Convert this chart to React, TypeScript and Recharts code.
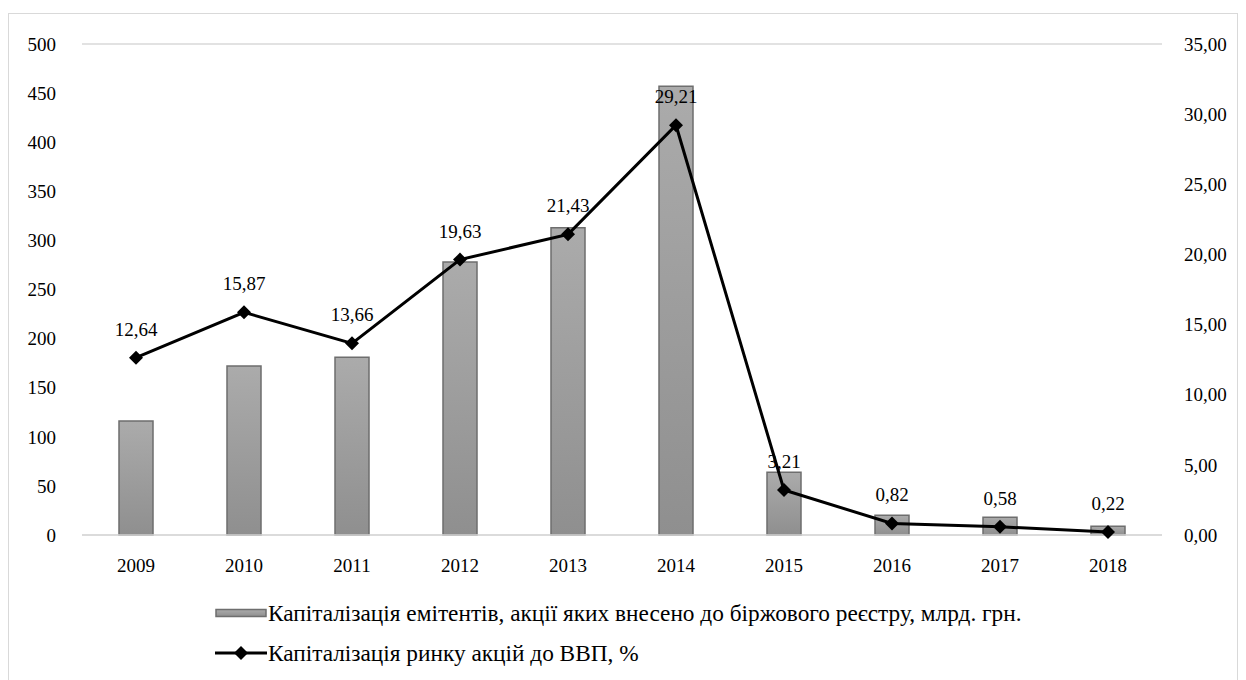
import React from 'react';
import {
  Bar,
  CartesianGrid,
  ComposedChart,
  LabelList,
  Legend,
  Line,
  XAxis,
  YAxis,
} from 'recharts';

const years = ['2009', '2010', '2011', '2012', '2013', '2014', '2015', '2016', '2017', '2018'];
const capitalization = [116, 172, 181, 278, 313, 457, 64, 20, 18, 9];
const shareOfGdp = [12.64, 15.87, 13.66, 19.63, 21.43, 29.21, 3.21, 0.82, 0.58, 0.22];
const leftTicks = [0, 50, 100, 150, 200, 250, 300, 350, 400, 450, 500];
const rightTicks = [0, 5, 10, 15, 20, 25, 30, 35];

const barName = 'Капіталізація емітентів, акції яких внесено до біржового реєстру, млрд. грн.';
const lineName = 'Капіталізація ринку акцій до ВВП, %';

const data = years.map((year, i) => ({
  year,
  cap: capitalization[i],
  gdp: shareOfGdp[i],
}));

const font = 'Liberation Serif, Times New Roman, serif';
const tickStyle = { fill: '#000', fontSize: 19, fontFamily: font };

const fmt = (v: number) => v.toFixed(2).replace('.', ',');

function Diamond(props: any) {
  const { cx, cy } = props;
  if (cx == null || cy == null) return null;
  const r = 7;
  return (
    <polygon
      points={`${cx},${cy - r} ${cx + r},${cy} ${cx},${cy + r} ${cx - r},${cy}`}
      fill="#000"
    />
  );
}

function ChartLegend() {
  const row = { display: 'flex', alignItems: 'center', height: 40, fontFamily: font, fontSize: 23.3, color: '#000' };
  return (
    <div style={{ paddingLeft: 206, paddingTop: 18 }}>
      <div style={row}>
        <svg width={52} height={12} style={{ marginRight: 1 }}>
          <rect x={1} y={2.5} width={50} height={7} fill="url(#barFill)" stroke="#6e6e6e" strokeWidth={1.5} />
        </svg>
        <span>{barName}</span>
      </div>
      <div style={row}>
        <svg width={52} height={16} style={{ marginRight: 1 }}>
          <line x1={0} y1={8} x2={52} y2={8} stroke="#000" strokeWidth={3} />
          <polygon points="26,1 33,8 26,15 19,8" fill="#000" />
        </svg>
        <span>{lineName}</span>
      </div>
    </div>
  );
}

export default function App() {
  return (
    <div
      style={{
        width: 1230,
        height: 680,
        marginTop: 5,
        border: '1px solid #d9d9d9',
        boxSizing: 'border-box',
        background: '#fff',
        fontFamily: font,
      }}
    >
      <ComposedChart
        width={1228}
        height={668}
        data={data}
        margin={{ top: 30, right: 0, left: 0, bottom: 17 }}
        style={{ fontFamily: font }}
      >
        <defs>
          <linearGradient id="barFill" x1="0" y1="0" x2="0" y2="1">
            <stop offset="0%" stopColor="#ababab" />
            <stop offset="100%" stopColor="#8f8f8f" />
          </linearGradient>
        </defs>
        <CartesianGrid vertical={false} stroke="#d9d9d9" strokeWidth={1.5} />
        <XAxis
          dataKey="year"
          axisLine={{ stroke: '#d9d9d9', strokeWidth: 1.5 }}
          tickLine={false}
          tick={tickStyle}
          tickMargin={18}
          height={40}
        />
        <YAxis
          yAxisId="left"
          domain={[0, 500]}
          ticks={leftTicks}
          axisLine={false}
          tickLine={false}
          tick={tickStyle}
          width={73}
          tickMargin={20}
        />
        <YAxis
          yAxisId="right"
          orientation="right"
          domain={[0, 35]}
          ticks={rightTicks}
          axisLine={false}
          tickLine={false}
          tick={tickStyle}
          tickFormatter={fmt}
          width={75}
          tickMargin={16}
        />
        <Legend verticalAlign="bottom" height={90} content={<ChartLegend />} />
        <Bar
          yAxisId="left"
          dataKey="cap"
          name={barName}
          barSize={34}
          fill="url(#barFill)"
          stroke="#6e6e6e"
          strokeWidth={1.5}
          isAnimationActive={false}
        />
        <Line
          yAxisId="right"
          dataKey="gdp"
          name={lineName}
          stroke="#000"
          strokeWidth={3}
          dot={<Diamond />}
          activeDot={false}
          isAnimationActive={false}
        >
          <LabelList
            dataKey="gdp"
            position="top"
            offset={22}
            formatter={(v: any) => fmt(Number(v))}
            style={{ fill: '#000', fontSize: 19, fontFamily: font }}
          />
        </Line>
      </ComposedChart>
    </div>
  );
}
